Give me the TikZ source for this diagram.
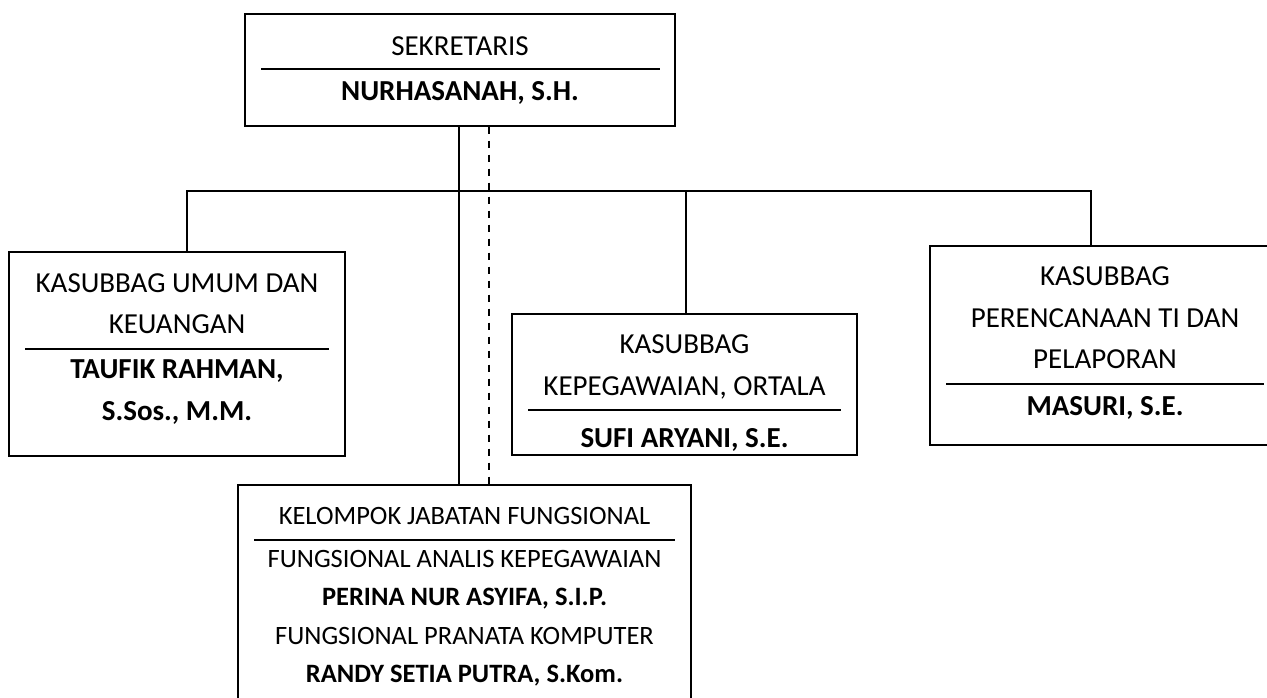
\documentclass[tikz,border=0pt]{standalone}
\usepackage{fontspec}
\setmainfont{Carlito}

\begin{document}
\begin{tikzpicture}[x=0.5pt, y=-0.5pt,
kotak/.style={rectangle, draw=black, line width=0.65pt, inner sep=0pt},
jabatan/.style={anchor=base, inner sep=0pt, font=\fontsize{14.5}{17}\selectfont},
pejabat/.style={anchor=base, inner sep=0pt, font=\fontsize{14.5}{17}\selectfont\bfseries},
jabatankecil/.style={anchor=base, inner sep=0pt, font=\fontsize{13.25}{16}\selectfont},
pejabatkecil/.style={anchor=base, inner sep=0pt, font=\fontsize{13.25}{16}\selectfont\bfseries},
garis/.style={line width=1pt},
penghubung/.style={line width=1pt},
putus/.style={line width=1pt, dash pattern=on 3.5pt off 3.5pt}]
\useasboundingbox (0,0) rectangle (1267,697);
\clip (0,0) rectangle (1267,697);

% kotak jabatan
\node[kotak, minimum width=215pt, minimum height=56pt] (sek) at (460,70) {};
\node[kotak, minimum width=168pt, minimum height=102pt] (umum) at (177,354) {};
\node[kotak, minimum width=172.5pt, minimum height=70.5pt] (kepeg) at (684.5,384.5) {};
\node[kotak, minimum width=175pt, minimum height=99.5pt] (renc) at (1105,345.5) {};
\node[kotak, minimum width=226.5pt, minimum height=115pt] (jf) at (464.5,600) {};

% sekretaris
\node[jabatan] (sekJ) at (460,55) {SEKRETARIS};
\draw[garis] (261,69) -- (660,69);
\node[pejabat] (sekP) at (460,100) {NURHASANAH, S.H.};

% umum dan keuangan
\node[jabatan] (umumJ1) at (177,292) {KASUBBAG UMUM DAN};
\node[jabatan] (umumJ2) at (177,333) {KEUANGAN};
\draw[garis] (25,349) -- (329,349);
\node[pejabat] (umumP1) at (177,378) {TAUFIK RAHMAN,};
\node[pejabat] (umumP2) at (177,420) {S.Sos., M.M.};

% kepegawaian
\node[jabatan] (kepegJ1) at (684.5,353) {KASUBBAG};
\node[jabatan] (kepegJ2) at (684.5,395) {KEPEGAWAIAN, ORTALA};
\draw[garis] (528,410) -- (841,410);
\node[pejabat] (kepegP) at (684.5,447) {SUFI ARYANI, S.E.};

% perencanaan
\node[jabatan] (rencJ1) at (1105,285) {KASUBBAG};
\node[jabatan] (rencJ2) at (1105,327) {PERENCANAAN TI DAN};
\node[jabatan] (rencJ3) at (1105,368) {PELAPORAN};
\draw[garis] (946,384) -- (1264,384);
\node[pejabat] (rencP) at (1105,415) {MASURI, S.E.};

% fungsional
\node[jabatankecil] (jfJ) at (464.5,524) {KELOMPOK JABATAN FUNGSIONAL};
\draw[garis] (254,540) -- (675,540);
\node[jabatankecil] (jfJ1) at (464.5,567) {FUNGSIONAL ANALIS KEPEGAWAIAN};
\node[pejabatkecil] (jfP1) at (464.5,605) {PERINA NUR ASYIFA, S.I.P.};
\node[jabatankecil] (jfJ2) at (464.5,644) {FUNGSIONAL PRANATA KOMPUTER};
\node[pejabatkecil] (jfP2) at (464.5,682) {RANDY SETIA PUTRA, S.Kom.};

% penghubung
\coordinate (barL) at (187,191);
\coordinate (barM) at (686,191);
\coordinate (barR) at (1091,191);
\coordinate (tegas) at (459,0);
\coordinate (titik) at (489,0);
\draw[penghubung] (sek.south -| tegas) -- (jf.north -| tegas);
\draw[putus] (sek.south -| titik) -- (jf.north -| titik);
\draw[penghubung] (umum.north -| barL) -- (barL) -- (barR) -- (renc.north -| barR);
\draw[penghubung] (barM) -- (kepeg.north -| barM);
\end{tikzpicture}
\end{document}
